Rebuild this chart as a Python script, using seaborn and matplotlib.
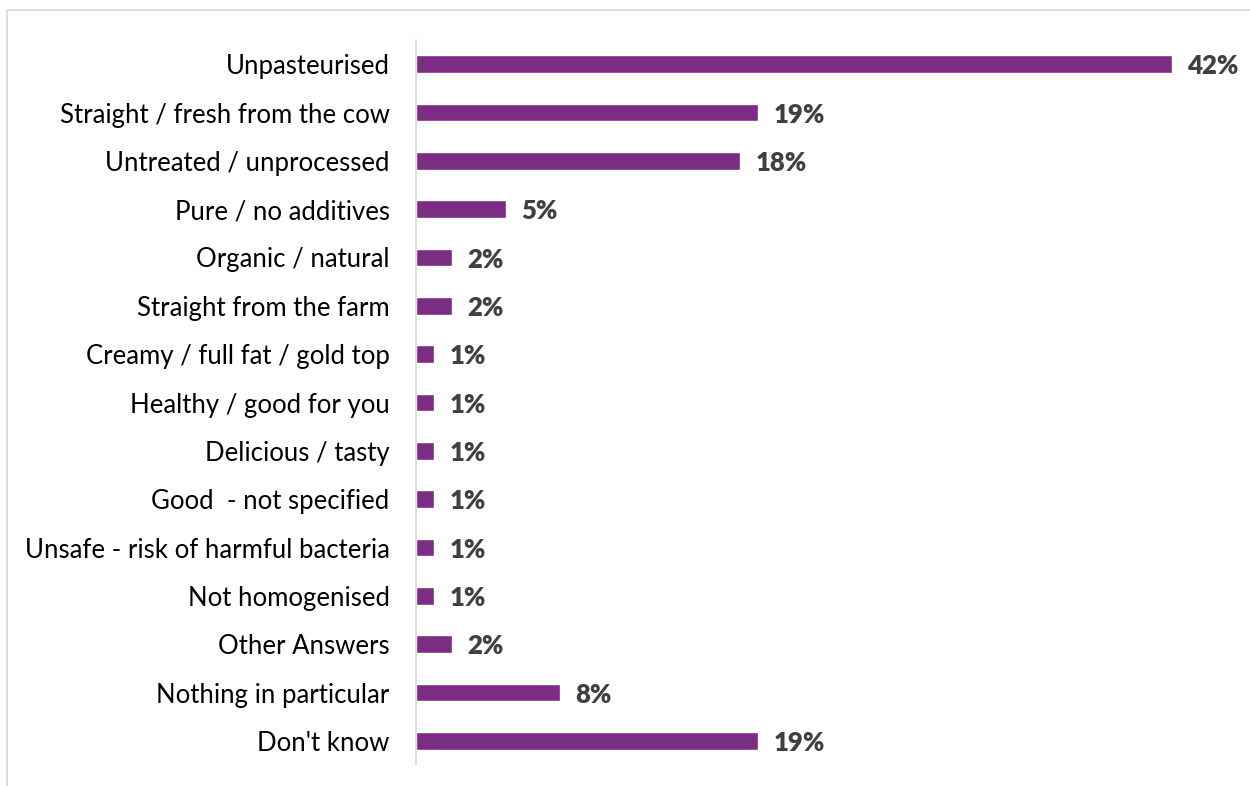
import matplotlib
matplotlib.use("Agg")
import matplotlib.pyplot as plt
from matplotlib.patches import Rectangle
import seaborn as sns
import pandas as pd

categories = [
    "Unpasteurised",
    "Straight / fresh from the cow",
    "Untreated / unprocessed",
    "Pure / no additives",
    "Organic / natural",
    "Straight from the farm",
    "Creamy / full fat / gold top",
    "Healthy / good for you",
    "Delicious / tasty",
    "Good  - not specified",
    "Unsafe - risk of harmful bacteria",
    "Not homogenised",
    "Other Answers",
    "Nothing in particular",
    "Don't know",
]
values = [42, 19, 18, 5, 2, 2, 1, 1, 1, 1, 1, 1, 2, 8, 19]

df = pd.DataFrame({"answer": categories, "pct": values})

sns.set_theme(style="white")
plt.rcParams["font.family"] = ["Lato", "DejaVu Sans"]

W, H = 1250, 786
fig = plt.figure(figsize=(W / 100, H / 100), dpi=100)

# outer chart frame (runs off the right and bottom edges)
fig.patches.append(Rectangle((7 / W, -0.2), 1.2, 1.2 - 10 / H, transform=fig.transFigure,
                             fill=False, edgecolor="#D9D9D9", linewidth=1.2))

ax_left, ax_right = 416, 416 + 45 * 18
ax_top, ax_bottom = 40, 765
ax = fig.add_axes([ax_left / W, 1 - ax_bottom / H, (ax_right - ax_left) / W, (ax_bottom - ax_top) / H])

sns.barplot(data=df, x="pct", y="answer", color="#7B2C83", saturation=1,
            width=0.37, ax=ax, orient="h")

ax.set_xlim(0, 45)
ax.set_ylim(len(categories) - 0.5, -0.5)
ax.set_xlabel("")
ax.set_ylabel("")
ax.set_xticks([])
for s in ["top", "right", "bottom"]:
    ax.spines[s].set_visible(False)
ax.spines["left"].set_color("#D9D9D9")
ax.spines["left"].set_linewidth(1.2)
ax.tick_params(axis="y", length=0, pad=19, labelsize=18.5, labelcolor="#000000")

for i, v in enumerate(values):
    ax.annotate(f"{v}%", xy=(v, i), xytext=(11, -1.5), textcoords="offset points",
                ha="left", va="center", fontsize=18.5, fontweight="heavy", color="#404040")

fig.savefig("out.png", dpi=100)
